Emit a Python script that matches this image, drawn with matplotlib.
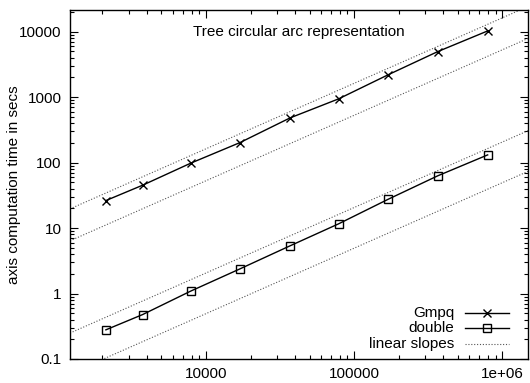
import matplotlib
matplotlib.use("Agg")
import matplotlib.pyplot as plt
import numpy as np
from matplotlib.ticker import FixedLocator, FuncFormatter, LogLocator, NullFormatter
from matplotlib.lines import Line2D

plt.rcParams['font.family'] = ['Liberation Sans', 'DejaVu Sans']

# Data
sizes = [2110, 3740, 7890, 16950, 36900, 78500, 170000, 366000, 796000]
gmpq = [26.3, 45.2, 98, 202, 481, 940, 2200, 4950, 10250]
double = [0.279, 0.478, 1.09, 2.38, 5.35, 11.6, 27.6, 62.7, 131]
slope_coefs = [0.01625, 0.00528, 2.06e-4, 4.93e-5]
title_text = "Tree circular arc representation"
ylabel_text = "axis computation time in secs"
series_names = ["Gmpq", "double", "linear slopes"]
xlim = (1208, 1.49e6)
ylim = (0.1, 21400)

fig = plt.figure(figsize=(5.30, 3.83), dpi=100)
ax = fig.add_axes([70/530, 1-359/383, 458/530, 349/383])
ax.set_xscale('log')
ax.set_yscale('log')
ax.set_xlim(*xlim)
ax.set_ylim(*ylim)

fs = 11
dot_style = dict(color='#555555', lw=0.8, ls=(0, (1, 1.6)))
xs = np.logspace(np.log10(xlim[0]), np.log10(xlim[1]), 50)
for c in slope_coefs:
    ax.plot(xs, c*xs, **dot_style)

ax.plot(sizes, gmpq, color='black', lw=1.0, marker='x', ms=6, mew=1.0)
ax.plot(sizes, double, color='black', lw=1.0, marker='s', ms=5.5, mfc='none', mew=1.0)

ax.text(0.5, 0.937, title_text, transform=ax.transAxes, ha='center', va='center', fontsize=fs)
ax.set_ylabel(ylabel_text, fontsize=fs)
ax.yaxis.set_label_coords((21-70)/458, 0.5)

# ticks
ax.yaxis.set_major_locator(FixedLocator([0.1, 1, 10, 100, 1000, 10000]))
ax.yaxis.set_major_formatter(FuncFormatter(lambda v, p: {0.1: '0.1', 1: '1', 10: '10', 100: '100', 1000: '1000', 10000: '10000'}.get(round(v, 4), '')))
ax.xaxis.set_major_locator(FixedLocator([1e4, 1e5, 1e6]))
ax.xaxis.set_major_formatter(FuncFormatter(lambda v, p: {1e4: '10000', 1e5: '100000', 1e6: '1e+06'}.get(v, '')))
ax.xaxis.set_minor_locator(LogLocator(base=10, subs=np.arange(2, 10)))
ax.yaxis.set_minor_locator(LogLocator(base=10, subs=np.arange(2, 10)))
ax.xaxis.set_minor_formatter(NullFormatter())
ax.yaxis.set_minor_formatter(NullFormatter())
ax.tick_params(which='both', direction='in', top=True, right=True, labelsize=fs, width=0.8, color='black')
ax.tick_params(which='major', length=6, pad=6)
ax.tick_params(which='minor', length=3)
for s in ax.spines.values():
    s.set_linewidth(1.0)

# legend (gnuplot style: right-aligned text, sample on the right)
tr = ax.transAxes
def ax_xy(px, py):
    return ((px-70)/458, (359-py)/349)
rows = [(312.7, dict(marker='x', ms=6, mew=1.0, ls='-', lw=1.0, color='black')),
        (328.3, dict(marker='s', ms=5.5, mfc='none', mew=1.0, ls='-', lw=1.0, color='black')),
        (344.0, dot_style)]
for name, (py, style) in zip(series_names, rows):
    tx, ty = ax_xy(454, py)
    ax.text(tx, ty, name, transform=tr, ha='right', va='center', fontsize=fs)
    x0, y0 = ax_xy(465, py)
    x1, _ = ax_xy(509, py)
    ax.add_line(Line2D([x0, x1], [y0, y0], transform=tr, **{k: v for k, v in style.items() if k not in ('marker', 'ms', 'mfc', 'mew')}))
    if 'marker' in style:
        ax.add_line(Line2D([(x0+x1)/2], [y0], transform=tr, ls='none', marker=style['marker'], ms=style['ms'],
                           mfc=style.get('mfc', 'black'), mew=style['mew'], color='black'))

fig.savefig('out.png', dpi=100)
